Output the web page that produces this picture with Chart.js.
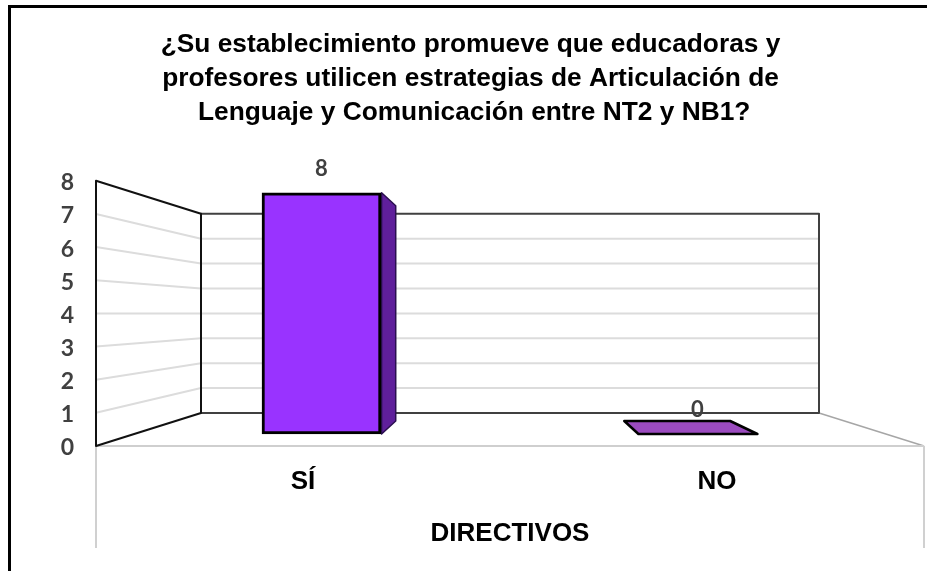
<!DOCTYPE html>
<html><head><meta charset="utf-8">
<style>
html,body{margin:0;padding:0;background:#fff;width:927px;height:571px;overflow:hidden}
#wrap{position:absolute;left:0;top:0;width:927px;height:571px}
</style>
<script src="https://cdn.jsdelivr.net/npm/chart.js@4"></script>
</head><body><div id="wrap"><canvas id="c" width="927" height="571"></canvas></div>
<script>
const categories = ['SÍ', 'NO'];
const values = [8, 0];
const yTicks = [0,1,2,3,4,5,6,7,8];
const titleLines = ['¿Su establecimiento promueve que educadoras y','profesores utilicen estrategias de Articulación de',' Lenguaje y Comunicación entre NT2 y NB1?'];
const axisTitle = 'DIRECTIVOS';

// perspective constants: back wall inset, and depth of the bar's front and rear planes
const WALL = {dx:105, dy:33};
const FACE_T = 12/33, BACK_T = 25/33;
const BAR_W = 119;

function planes(chart){
  const a = chart.chartArea, y = chart.scales.y;
  const pt = (u,v,t)=>{ // u: front-plane pixel, v: data value, t: depth (0 front, 1 back wall)
    const cx=(a.left+a.right)/2, W=(a.right-a.left)/2;
    const sx=(W-WALL.dx*t)/W;
    const cy=(a.top+a.bottom)/2, H=(a.bottom-a.top)/2;
    const sy=(H-WALL.dy*t)/H;
    return [cx+(u-cx)*sx, cy+(y.getPixelForValue(v)-cy)*sy];
  };
  return {a,y,pt};
}
function poly(ctx,pts,fill,stroke,lw){
  ctx.beginPath();pts.forEach((p,i)=>i?ctx.lineTo(p[0],p[1]):ctx.moveTo(p[0],p[1]));ctx.closePath();
  if(fill){ctx.fillStyle=fill;ctx.fill();}
  if(stroke){ctx.strokeStyle=stroke;ctx.lineWidth=lw;ctx.lineJoin='round';ctx.stroke();}
}
function seg(ctx,p,q,c,lw){ctx.beginPath();ctx.moveTo(p[0],p[1]);ctx.lineTo(q[0],q[1]);ctx.strokeStyle=c;ctx.lineWidth=lw;ctx.stroke();}

const scene = {
  id:'scene',
  beforeDatasetsDraw(chart){
    const {ctx}=chart; const {a,pt}=planes(chart);
    ctx.save();
    const xs=chart.scales.x, L=a.left, R=a.right;
    yTicks.forEach(v=>{
      if(v===0||v===8) return;
      seg(ctx,pt(L,v,0),pt(L,v,1),'#dcdcdc',2);
      seg(ctx,pt(L,v,1),pt(R,v,1),'#dcdcdc',2);
    });
    seg(ctx,pt(R,0,1),pt(R,0,0),'#a6a6a6',1.5);
    seg(ctx,[L,a.bottom],[L,a.bottom+102],'#d0d0d0',2);
    seg(ctx,[R,a.bottom],[R,a.bottom+102],'#d0d0d0',2);
    seg(ctx,[L,a.bottom],[R,a.bottom],'#cfcfcf',2);
    poly(ctx,[pt(L,8,1),pt(R,8,1),pt(R,0,1),pt(L,0,1)],null,'#404040',2);
    poly(ctx,[pt(L,8,0),pt(L,8,1),pt(L,0,1),pt(L,0,0)],null,'#111111',2);
    values.forEach((val,i)=>{
      const c=xs.getPixelForValue(i);
      const k=(R-L-2*WALL.dx*FACE_T)/(R-L);
      const l=c-BAR_W/2/k, r=c+BAR_W/2/k;
      if(val>0){
        poly(ctx,[pt(r,val,FACE_T),pt(r,val,BACK_T),pt(r,0,BACK_T),pt(r,0,FACE_T)],'#5f1f9b','#2a0f50',1.5);
      }else{
        poly(ctx,[pt(l,val,FACE_T),pt(r,val,FACE_T),pt(r,val,BACK_T),pt(l,val,BACK_T)],'#9b4bbf','#000',2.5);
      }
    });
    ctx.restore();
  },
  afterDatasetsDraw(chart){
    const {ctx}=chart; const meta=chart.getDatasetMeta(0);
    ctx.save();
    ctx.font='bold 22px Lato'; ctx.fillStyle='#404040'; ctx.textAlign='center'; ctx.textBaseline='middle';
    meta.data.forEach((el,i)=>ctx.fillText(String(values[i]),el.x,el.y-24));
    ctx.restore();
  }
};

// bar face plane: same value range seen at depth FACE_T, via hidden scales
const faceH = 241, areaTop=181, areaBottom=446;
const perUnitY = faceH/8;
const yMin = -(areaBottom-434)/perUnitY, yMax = 8+(193-areaTop)/perUnitY;
const perUnitX = 376;
const xMin = -(321.5-96)/perUnitX, xMax = 1+(924-697.5)/perUnitX;

new Chart(document.getElementById('c'),{
  type:'bar',
  data:{labels:categories,datasets:[{
    data:values.map((v,i)=>({x:i,y:v})),
    xAxisID:'xBar',yAxisID:'yBar',
    backgroundColor:'#9933ff',borderColor:'#000',borderWidth:3,borderSkipped:false,barThickness:BAR_W
  }]},
  options:{
    responsive:false,animation:false,
    layout:{padding:{left:17,right:3,top:0,bottom:0}},
    plugins:{legend:{display:false},tooltip:{enabled:false},
      title:{display:true,text:titleLines,font:{family:'Liberation Sans',size:26.3,weight:'bold',lineHeight:1.29},color:'#000',padding:{top:28,bottom:51}}},
    scales:{
      x:{type:'category',labels:categories,position:'bottom',grid:{display:false},border:{display:false},
        ticks:{font:{family:'Liberation Sans',size:26,weight:'bold'},color:'#000',padding:12,maxRotation:0},
        title:{display:true,text:axisTitle,font:{family:'Liberation Sans',size:26,weight:'bold'},color:'#000',padding:{top:16,bottom:22}},
        afterFit(s){s.height=125;}},
      y:{type:'linear',position:'left',min:0,max:8,grid:{display:false},border:{display:false},
        ticks:{stepSize:1,font:{family:'Lato',size:23,weight:'bold'},color:'#404040',padding:14,labelOffset:2},
        afterFit(s){s.width=79;}},
      xBar:{type:'linear',display:false,min:xMin,max:xMax,offset:false,position:'bottom'},
      yBar:{type:'linear',display:false,min:yMin,max:yMax,position:'left'}
    }
  },
  plugins:[scene,{id:'frame',beforeDraw(chart){const c=chart.ctx;c.save();c.fillStyle='#000';c.fillRect(8,5,3,566);c.fillRect(8,5,919,3);c.restore();}}]
});
</script></body></html>
